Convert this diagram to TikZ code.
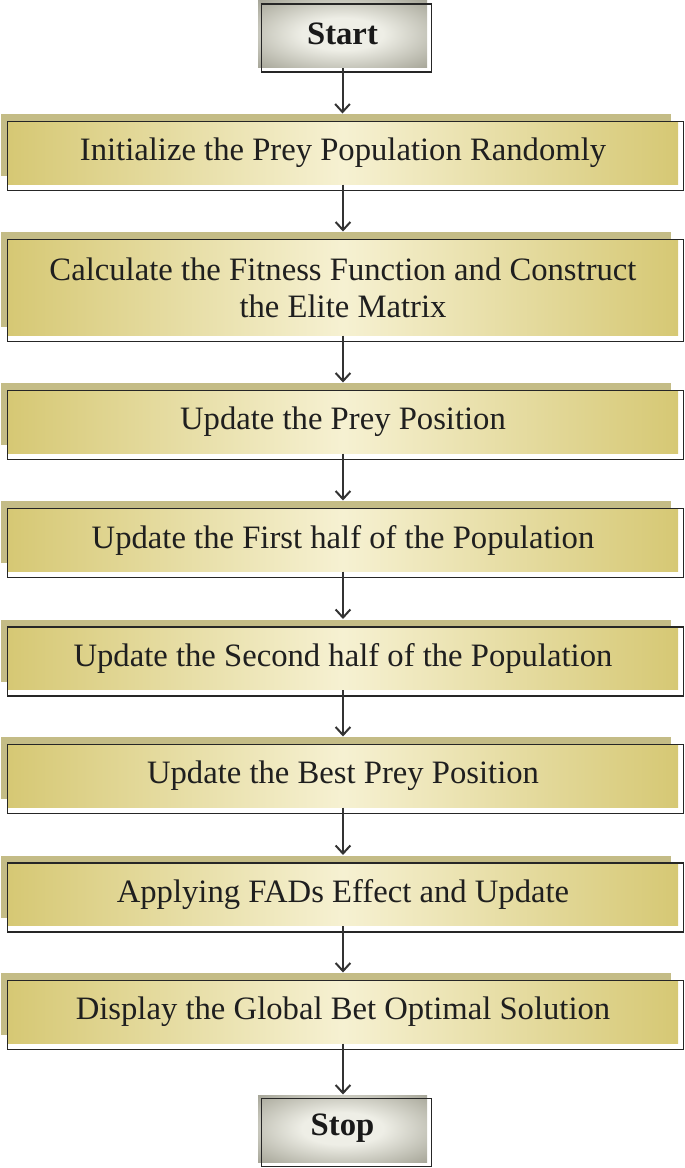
\documentclass[tikz,border=0pt]{standalone}
\usepackage{fontspec}
\setmainfont{Liberation Serif}
\usetikzlibrary{arrows.meta,shadows}

\definecolor{boxedge}{RGB}{214,200,116}
\definecolor{boxmid}{RGB}{246,241,210}
\definecolor{boxback}{RGB}{196,188,134}
\definecolor{termedge}{RGB}{122,121,104}
\definecolor{termmid}{RGB}{238,238,230}

\pgfdeclareradialshading{termshade}{\pgfpoint{0bp}{0bp}}{color(0bp)=(termmid); color(12bp)=(termmid); color(50bp)=(termedge); color(75bp)=(termedge!85!black)}

\tikzset{every picture/.style={line width=0.75pt}}
\tikzset{
  stepbox/.style={inner sep=0pt, minimum width=502.5pt, minimum height=46.5pt, align=center,
    left color=boxedge, right color=boxedge, middle color=boxmid,
    general shadow={fill=boxback, shadow xshift=-5.25pt, shadow yshift=6pt},
    font=\fontsize{24.5}{28}\selectfont, text=black!88},
  termbox/.style={inner sep=0pt, minimum width=126.75pt, minimum height=50.25pt,
    shading=termshade,
    font=\fontsize{24.5}{28}\selectfont\bfseries, text=black!90},
  frame/.style={draw=black!85, line width=1.2pt},
  flow/.style={draw=black!80, line width=1.5pt, -{Straight Barb[length=6pt,width=11pt,line width=1.5pt]}}
}

\begin{document}
\begin{tikzpicture}[x=0.75pt,y=0.75pt,yscale=-1,xscale=1]
\useasboundingbox (0,0) rectangle (685,1168);

%Shape: Start / Stop
\node[termbox] (start) at (342.5,34) {Start};
\node[termbox] (stop) at (342.5,1128.5) {Stop};

%Shape: Steps
\node[stepbox] (init) at (343,153) {Initialize the Prey Population Randomly};
\node[stepbox, minimum height=71.25pt] (calc) at (343,287.5) {Calculate the Fitness Function and Construct\\the Elite Matrix};
\node[stepbox] (prey) at (343,422) {Update the Prey Position};
\node[stepbox] (first) at (343,540) {Update the First half of the Population};
\node[stepbox] (second) at (343,658.5) {Update the Second half of the Population};
\node[stepbox] (best) at (343,776) {Update the Best Prey Position};
\node[stepbox] (fads) at (343,894.5) {Applying FADs Effect and Update};
\node[stepbox] (disp) at (343,1012) {Display the Global Bet Optimal Solution};

%Frames
\foreach \n in {init,calc,prey,first,second,best,fads,disp}
  \draw[frame] (\n.north west) rectangle ([shift={(5,6)}]\n.south east);
\foreach \n in {start,stop}
  \draw[frame] ([shift={(4,4)}]\n.north west) rectangle ([shift={(4,4)}]\n.south east);

%Straight Lines
\foreach \a/\b in {start/init,init/calc,calc/prey,prey/first,first/second,second/best,best/fads,fads/disp}
  \draw[flow, shorten >=6pt] (\a.south) -- (\a.south |- \b.north);
\draw[flow] (disp.south) -- (disp.south |- stop.north);

\end{tikzpicture}
\end{document}
